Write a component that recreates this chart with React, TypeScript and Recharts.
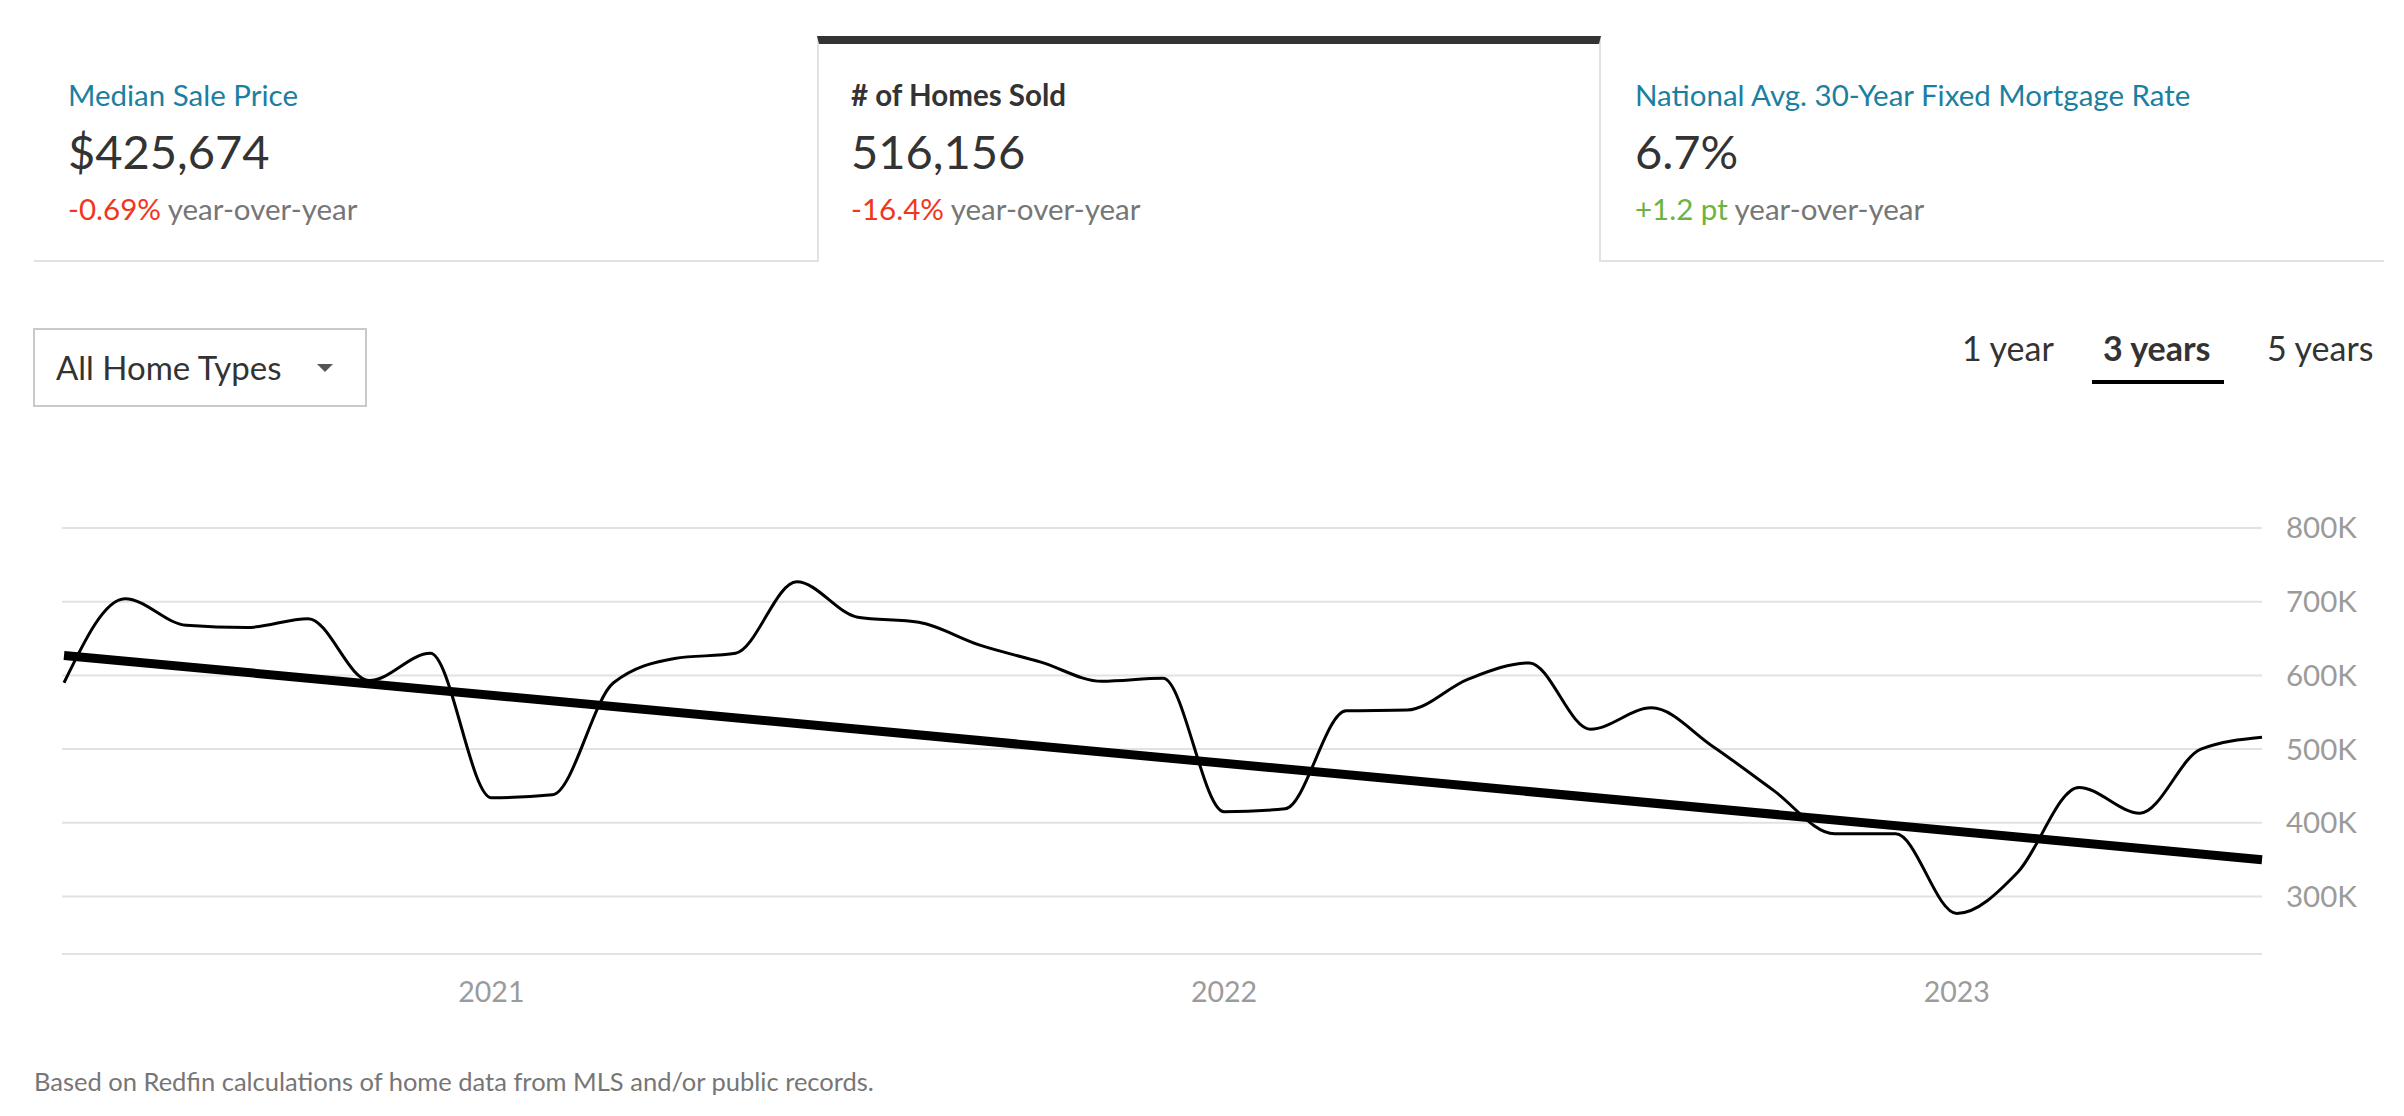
import React from 'react'
import { LineChart, Line, XAxis, YAxis, CartesianGrid } from 'recharts'

const months = [
  'Jun 2020', 'Jul 2020', 'Aug 2020', 'Sep 2020', 'Oct 2020', 'Nov 2020', 'Dec 2020',
  'Jan 2021', 'Feb 2021', 'Mar 2021', 'Apr 2021', 'May 2021', 'Jun 2021', 'Jul 2021',
  'Aug 2021', 'Sep 2021', 'Oct 2021', 'Nov 2021', 'Dec 2021',
  'Jan 2022', 'Feb 2022', 'Mar 2022', 'Apr 2022', 'May 2022', 'Jun 2022', 'Jul 2022',
  'Aug 2022', 'Sep 2022', 'Oct 2022', 'Nov 2022', 'Dec 2022',
  'Jan 2023', 'Feb 2023', 'Mar 2023', 'Apr 2023', 'May 2023', 'Jun 2023',
]

// homes sold per month
const homesSold = [
  590000, 704000, 668000, 665000, 677000, 593000, 630000,
  434000, 438000, 590000, 623000, 630000, 727000, 679000,
  672000, 641000, 618000, 592000, 596000,
  415000, 419000, 552000, 553000, 595000, 617000, 527000,
  556000, 504000, 444000, 385000, 385000,
  277000, 333000, 448000, 413000, 500000, 516000,
]

// trend line: only the two end points
const trendStart = 627000
const trendEnd = 350000

const yTicks = [300000, 400000, 500000, 600000, 700000, 800000]
const yearLabels = ['2021', '2022', '2023']

const tabs = ['1 year', '3 years', '5 years']

const cards = [
  { title: 'Median Sale Price', value: '$425,674', change: '-0.69%', changeColor: '#f1361d', active: false },
  { title: '# of Homes Sold', value: '516,156', change: '-16.4%', changeColor: '#f1361d', active: true },
  { title: 'National Avg. 30-Year Fixed Mortgage Rate', value: '6.7%', change: '+1.2 pt', changeColor: '#6cb33f', active: false },
]

const data = months.map((m, i) => ({
  i,
  month: m,
  sold: homesSold[i],
  trend: i === 0 ? trendStart : i === months.length - 1 ? trendEnd : null,
}))

const yearTicks = yearLabels.map((y) => months.indexOf('Jan ' + y))

const FONT = 'Lato, "Open Sans", sans-serif'

function fmtK(v: number) {
  return `${Math.round(v / 1000)}K`
}

function fmtYear(v: number) {
  return months[v] ? months[v].split(' ')[1] : ''
}

const abs = (left: number, top: number, extra: React.CSSProperties = {}): React.CSSProperties => ({
  position: 'absolute',
  left,
  top,
  whiteSpace: 'nowrap',
  lineHeight: 1,
  ...extra,
})

export default function App() {
  const cardLefts = [34, 817, 1601]
  const cardWidths = [783, 784, 783]
  return (
    <div
      style={{
        position: 'absolute',
        left: 0,
        top: 0,
        width: 2404,
        height: 1116,
        background: '#fff',
        fontFamily: FONT,
        overflow: 'hidden',
      }}
    >
      {cards.map((c, k) => (
        <div key={k}>
          <div
            style={{
              position: 'absolute',
              left: cardLefts[k],
              top: 36,
              width: cardWidths[k],
              height: 226,
              boxSizing: 'border-box',
              borderBottom: c.active ? 'none' : '2px solid #e2e2e2',
              borderTop: c.active ? '8px solid #333' : 'none',
              borderLeft: c.active ? '2px solid #e2e2e2' : 'none',
              borderRight: c.active ? '2px solid #e2e2e2' : 'none',
            }}
          />
          <div
            style={abs(cardLefts[k] + 34, 80, {
              fontSize: 29.5,
              color: c.active ? '#333' : '#1b7fa2',
              fontWeight: c.active ? 700 : 400,
            })}
          >
            {c.title}
          </div>
          <div style={abs(cardLefts[k] + 34, 128, { fontSize: 47, color: '#333' })}>{c.value}</div>
          <div style={abs(cardLefts[k] + 34, 194, { fontSize: 29.5, color: '#767676' })}>
            <span style={{ color: c.changeColor }}>{c.change}</span> year-over-year
          </div>
        </div>
      ))}

      {/* home type dropdown */}
      <div
        style={{
          position: 'absolute',
          left: 33,
          top: 328,
          width: 334,
          height: 79,
          boxSizing: 'border-box',
          border: '2px solid #c9c9c9',
        }}
      />
      <div style={abs(56, 351, { fontSize: 33, color: '#333' })}>All Home Types</div>
      <div
        style={{
          position: 'absolute',
          left: 317,
          top: 364,
          width: 0,
          height: 0,
          borderLeft: '8.5px solid transparent',
          borderRight: '8.5px solid transparent',
          borderTop: '8px solid #555',
        }}
      />

      {/* period tabs */}
      {tabs.map((t, k) => (
        <div
          key={t}
          style={abs([1962, 2103, 2267][k], 331, {
            fontSize: 34,
            color: '#333',
            fontWeight: k === 1 ? 700 : 400,
          })}
        >
          {t}
        </div>
      ))}
      <div style={{ position: 'absolute', left: 2092, top: 380, width: 132, height: 4, background: '#000' }} />

      <div style={{ position: 'absolute', left: 0, top: 480 }}>
        <LineChart
          width={2404}
          height={600}
          data={data}
          margin={{ top: 48, right: 0, left: 62, bottom: 66 }}
        >
          <CartesianGrid vertical={false} stroke="#e2e2e2" strokeWidth={2} />
          <XAxis
            dataKey="i"
            type="number"
            domain={[0, months.length - 1]}
            ticks={yearTicks}
            tickFormatter={fmtYear}
            padding={{ left: 2, right: 0 }}
            height={60}
            tickLine={false}
            tickSize={0}
            tickMargin={28}
            axisLine={{ stroke: '#e2e2e2', strokeWidth: 2 }}
            tick={{ fill: '#9b9b9b', fontSize: 28.5, fontFamily: FONT }}
          />
          <YAxis
            orientation="right"
            width={142}
            domain={[222000, 800000]}
            ticks={yTicks}
            tickFormatter={fmtK}
            axisLine={false}
            tickLine={false}
            tickSize={0}
            tickMargin={24}
            tick={{ fill: '#9b9b9b', fontSize: 29.5, fontFamily: FONT, textAnchor: 'start' }}
          />
          <Line
            dataKey="sold"
            type="monotone"
            stroke="#000"
            strokeWidth={3}
            dot={false}
            isAnimationActive={false}
          />
          <Line
            dataKey="trend"
            type="linear"
            stroke="#000"
            strokeWidth={9}
            dot={false}
            connectNulls
            isAnimationActive={false}
          />
        </LineChart>
      </div>

      <div style={abs(34, 1069, { fontSize: 25.5, color: '#767676' })}>
        Based on Redfin calculations of home data from MLS and/or public records.
      </div>
    </div>
  )
}
